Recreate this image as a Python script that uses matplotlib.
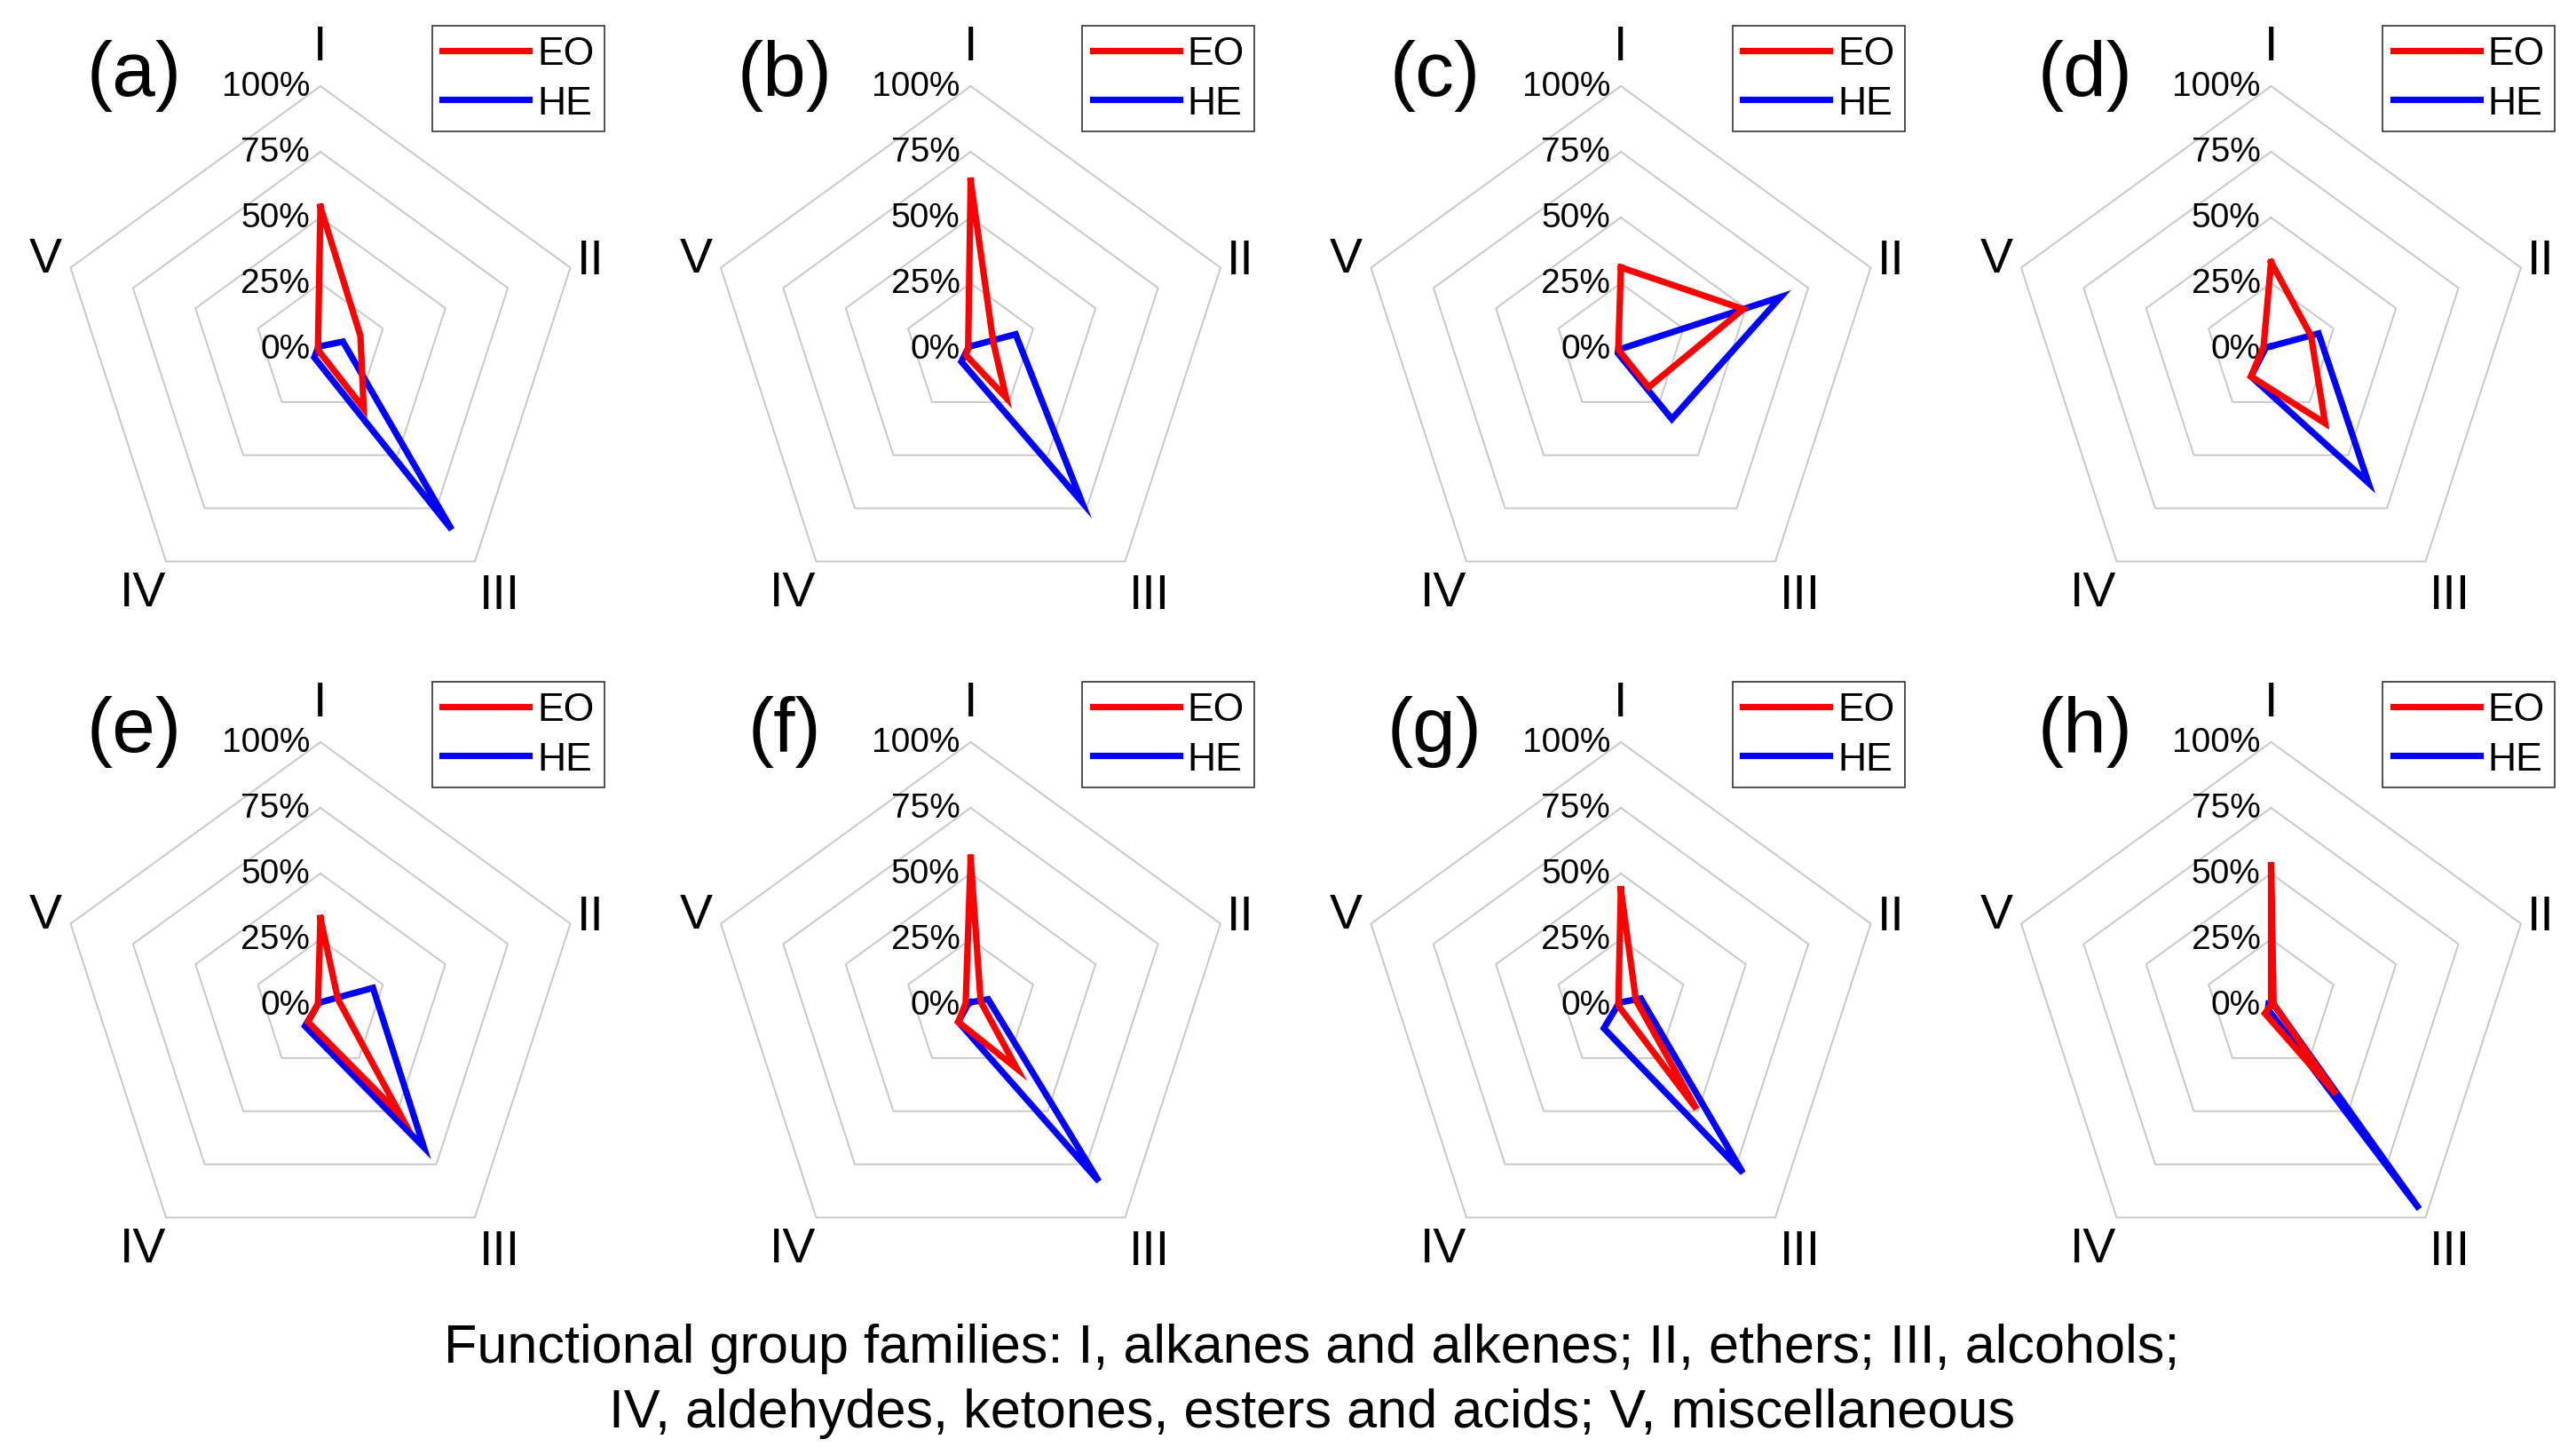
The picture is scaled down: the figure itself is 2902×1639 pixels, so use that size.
import numpy as np
import matplotlib.pyplot as plt

plt.rcParams['font.family'] = ['Liberation Sans', 'DejaVu Sans']

# functional group families (radar axes)
families = ['I', 'II', 'III', 'IV', 'V']
panel_tags = ['(a)', '(b)', '(c)', '(d)', '(e)', '(f)', '(g)', '(h)']
ring_levels = [0.25, 0.50, 0.75, 1.00]
tick_labels = ['0%', '25%', '50%', '75%', '100%']

# percentages, order I..V
eo_a = [54, 16, 28, 1, 1]
he_a = [1, 9, 85, 4, 1]
eo_b = [64, 9, 23, 3, 1]
he_b = [1, 18, 72, 6, 1]
eo_c = [31, 49, 18, 1, 1]
he_c = [0, 64, 33, 2, 1]
eo_d = [33, 16, 35, 13, 3]
he_d = [1, 19, 63, 13, 2]
eo_e = [33, 7, 52, 8, 1]
he_e = [1, 21, 67, 10, 1]
eo_f = [56, 4, 30, 8, 2]
he_f = [1, 7, 83, 8, 1]
eo_g = [44, 6, 49, 1, 1]
he_g = [1, 8, 79, 11, 1]
eo_h = [53, 1, 42, 4, 0]
he_h = [0, 1, 96, 2, 1]

eo_all = [eo_a, eo_b, eo_c, eo_d, eo_e, eo_f, eo_g, eo_h]
he_all = [he_a, he_b, he_c, he_d, he_e, he_f, he_g, he_h]

footer = ('Functional group families: I, alkanes and alkenes; II, ethers; III, alcohols;\n'
          'IV, aldehydes, ketones, esters and acids; V, miscellaneous')

W, H = 2902, 1640
fig = plt.figure(figsize=(W / 100, H / 100), dpi=100)
fig.patch.set_facecolor('white')

R = 296.0      # pixels for 100%
half = 366.0   # half size of each panel axes in pixels
ang = np.deg2rad(90 - 72 * np.arange(5))
ux, uy = np.cos(ang), np.sin(ang)


def closed(v):
    v = np.asarray(v, dtype=float)
    return np.append(v, v[0])


lab_r = [1.15, 1.08, 1.16, 1.15, 1.10]

for i in range(8):
    row, col = divmod(i, 4)
    cx = 361 + 732.5 * col
    cy = 394 + 739 * row
    ax = fig.add_axes([(cx - half) / W, 1 - (cy + half) / H, 2 * half / W, 2 * half / H])
    lim = half / R
    ax.set_xlim(-lim, lim)
    ax.set_ylim(-lim, lim)
    ax.set_aspect('equal')
    ax.axis('off')

    # pentagon grid
    for lv in ring_levels:
        ax.plot(closed(lv * ux), closed(lv * uy), color='#c8c8c8', lw=1.4, zorder=1)

    # radial tick labels
    for k, t in enumerate(tick_labels):
        ax.text(-0.04, k * 0.25, t, ha='right', va='center', fontsize=28)

    # family labels
    for k, name in enumerate(families):
        ax.text(lab_r[k] * ux[k], lab_r[k] * uy[k], name, ha='center', va='center', fontsize=40)

    eo = np.array(eo_all[i]) / 100.0
    he = np.array(he_all[i]) / 100.0
    ax.plot(closed(he * ux), closed(he * uy), color='#0000ff', lw=5.2, label='HE',
            solid_joinstyle='miter', zorder=3)
    ax.plot(closed(eo * ux), closed(eo * uy), color='#ff0000', lw=5.2, label='EO',
            solid_joinstyle='miter', zorder=4)

    ax.text(-0.708, 1.042, panel_tags[i], ha='center', va='center', fontsize=63)

    h, l = ax.get_legend_handles_labels()
    leg = ax.legend(h[::-1], l[::-1], loc='upper left', bbox_to_anchor=(0.425, 1.231),
                    bbox_transform=ax.transData, borderaxespad=0, fontsize=32,
                    fancybox=False, frameon=True, handlelength=2.2, handletextpad=0.2,
                    labelspacing=0.33, borderpad=0.26)
    leg.get_frame().set_edgecolor('black')
    leg.get_frame().set_linewidth(1.2)
    for ln in leg.get_lines():
        ln.set_linewidth(5.2)

fig.text(1478 / W, 1 - 1556 / H, footer, ha='center', va='center', fontsize=44,
         linespacing=1.37)

fig.savefig('out.png', dpi=100, facecolor='white')
